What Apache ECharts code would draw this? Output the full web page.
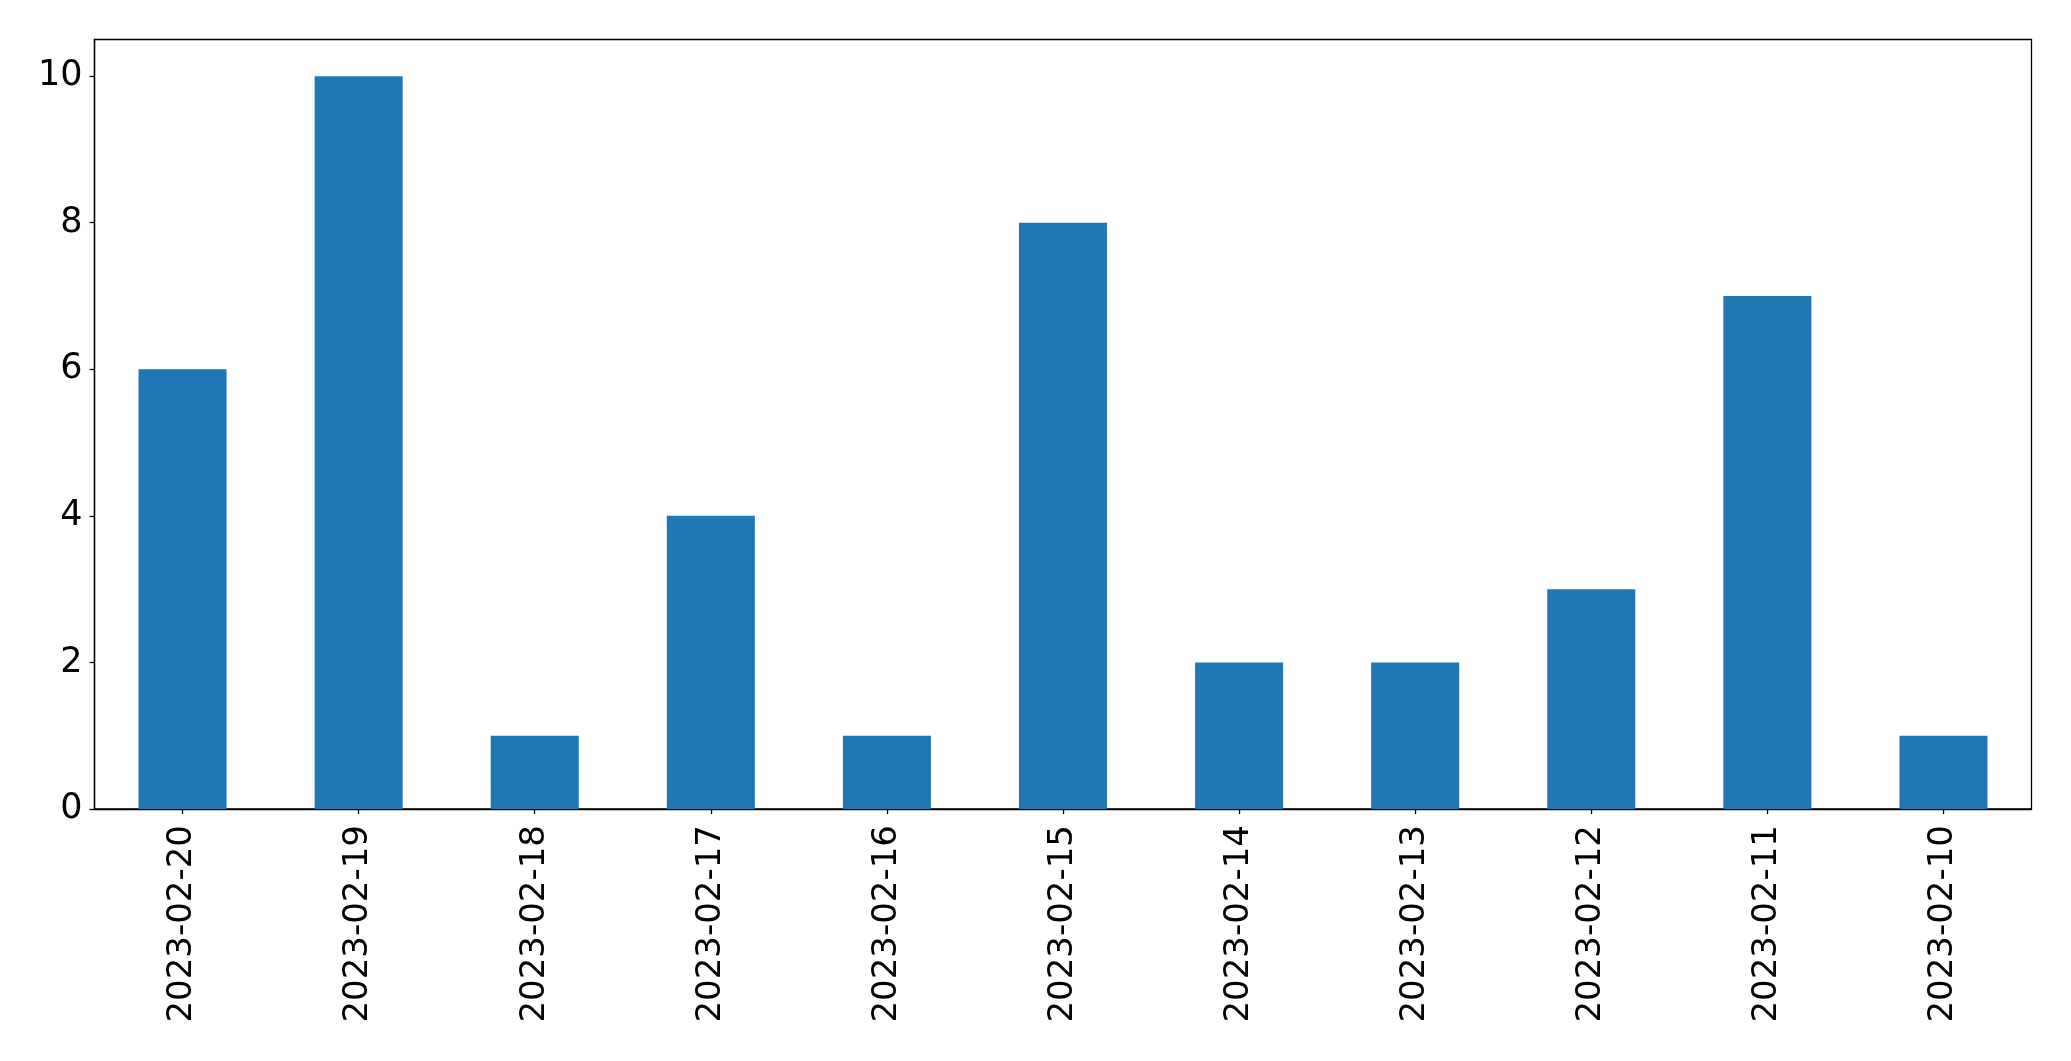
<!DOCTYPE html>
<html><head><meta charset="utf-8">
<script src="https://cdn.jsdelivr.net/npm/echarts@6/dist/echarts.min.js"></script>
<style>html,body{margin:0;padding:0;background:#fff}#c{width:2071px;height:1061px}</style>
</head><body><div id="c"></div>
<script>
const categories = ["2023-02-20","2023-02-19","2023-02-18","2023-02-17","2023-02-16","2023-02-15","2023-02-14","2023-02-13","2023-02-12","2023-02-11","2023-02-10"];
const values = [6,10,1,4,1,8,2,2,3,7,1];
const yTicks = [0,2,4,6,8,10];

const chart = echarts.init(document.getElementById('c'), null, {renderer:'canvas'});
const font = '"DejaVu Sans"';
chart.setOption({
  animation:false,
  backgroundColor:'#ffffff',
  grid:{left:94.5,right:39.5,top:39.5,bottom:252,show:true,borderColor:'#000',borderWidth:1.3,backgroundColor:'transparent'},
  xAxis:{type:'category',data:categories,boundaryGap:true,
    axisLine:{show:true,lineStyle:{color:'#000',width:1.3}},
    axisTick:{show:true,alignWithLabel:true,length:5,lineStyle:{color:'#000',width:1.3}},
    axisLabel:{rotate:90,margin:16,color:'#000',fontFamily:font,fontSize:34},
    splitLine:{show:false}},
  yAxis:{type:'value',min:0,max:10.5,interval:2,
    axisLine:{show:true,lineStyle:{color:'#000',width:1.3}},
    axisTick:{show:true,length:5,lineStyle:{color:'#000',width:1.3}},
    axisLabel:{margin:12,color:'#000',fontFamily:font,fontSize:35,showMaxLabel:false,
      formatter:v=>yTicks.includes(v)?String(v):''},
    splitLine:{show:false}},
  series:[{type:'bar',data:values,barWidth:'50%',itemStyle:{color:'#1f77b4'}}]
});
</script></body></html>
